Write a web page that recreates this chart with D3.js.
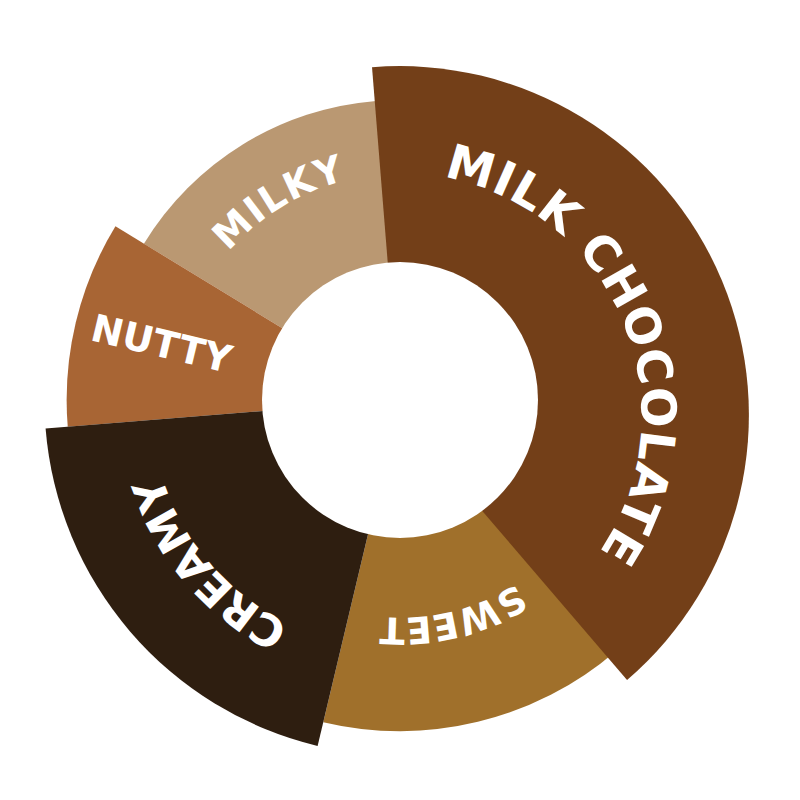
<!DOCTYPE html>
<html>
<head>
<meta charset="utf-8">
<script src="https://cdn.jsdelivr.net/npm/d3@7"></script>
<style>
  html, body { margin: 0; padding: 0; background: #fff; }
  svg { display: block; }
  text { font-family: "DejaVu Sans", sans-serif; font-weight: 700; fill: #fff; }
</style>
</head>
<body>
<div id="container"></div>
<script>
// flavour wheel, clockwise from the top
const flavors = ["MILK CHOCOLATE", "SWEET", "CREAMY", "NUTTY", "MILKY"];
const shares = [40, 15, 20, 10, 15];          // % of the wheel
const strength = [9.5, 8.7, 9.8, 8.8, 7.3];   // 0-10, drives the outer radius
const colors = ["#733f18", "#a0702b", "#2e1e10", "#a86534", "#ba9872"];

const w = 800;
const h = 800;
const cx = 400;
const cy = 400;
const innerR = 138;
const startDeg = -4.6;

// the big slice sits a bit lower than the others
const shift = [[0, 15], [0, 0], [0, 0], [0, 0], [0, 0]];

// label layout: font size, radius of the letters' middle, length the word covers
const labelSize = [48, 37, 44, 38, 38];
const labelR = [259, 231, 266, 245, 240];
const labelLen = [482, 143, 203, 143, 139];

const svg = d3.select("#container")
  .append("svg")
  .attr("width", w)
  .attr("height", h);

const a0 = startDeg * Math.PI / 180;
const pie = d3.pie()
  .sort(null)
  .value(d => d)
  .startAngle(a0)
  .endAngle(a0 + 2 * Math.PI);

const slices = pie(shares).map((p, i) => Object.assign({}, p, { i: i }));

const rScale = d3.scaleLinear()
  .domain([0, 10])
  .range([innerR, 360]);

const arc = d3.arc()
  .innerRadius(0)
  .outerRadius(d => rScale(strength[d.i]));

// paint order so the overlaps look like the original
const drawOrder = [4, 3, 1, 2, 0];

svg.selectAll("path.slice")
  .data(drawOrder.map(i => slices[i]))
  .join("path")
  .attr("class", "slice")
  .attr("transform", d => "translate(" + (cx + shift[d.i][0]) + "," + (cy + shift[d.i][1]) + ")")
  .attr("d", arc)
  .attr("fill", d => colors[d.i]);

svg.append("circle")
  .attr("cx", cx)
  .attr("cy", cy)
  .attr("r", innerR)
  .attr("fill", "#fff");

function spacing(t, i) {
  const len = t.node().getComputedTextLength();
  return (labelLen[i] - len) / (flavors[i].length - 1);
}

slices.forEach(d => {
  const i = d.i;
  const size = labelSize[i];
  const mid = (d.startAngle + d.endAngle) / 2;
  const g = svg.append("g")
    .attr("transform", "translate(" + (cx + shift[i][0]) + "," + (cy + shift[i][1]) + ")");

  if (shares[i] < 12) {
    // narrow slice: word runs along the radius toward the hole
    const x = labelR[i] * Math.sin(mid);
    const y = -labelR[i] * Math.cos(mid);
    const t = g.append("text")
      .attr("transform", "translate(" + x + "," + y + ") rotate(" + (mid * 180 / Math.PI - 270) + ")")
      .attr("text-anchor", "middle")
      .attr("dy", "0.36em")
      .style("font-size", size + "px")
      .text(flavors[i]);
    const ls = spacing(t, i);
    t.style("letter-spacing", ls + "px").attr("dx", ls / 2);
  } else {
    // word follows the arc, clockwise
    const base = labelR[i] - size * 0.36;
    const p = d3.path();
    p.arc(0, 0, base, d.startAngle - Math.PI / 2, d.endAngle - Math.PI / 2);
    g.append("path")
      .attr("id", "lbl" + i)
      .attr("d", p.toString())
      .attr("fill", "none");
    const t = g.append("text")
      .style("font-size", size + "px")
      .attr("text-anchor", "middle");
    const tp = t.append("textPath")
      .attr("href", "#lbl" + i)
      .text(flavors[i]);
    const ls = spacing(t, i);
    const pathLen = base * (d.endAngle - d.startAngle);
    t.style("letter-spacing", ls + "px");
    tp.attr("startOffset", pathLen / 2 + ls / 2);
  }
});
</script>
</body>
</html>
